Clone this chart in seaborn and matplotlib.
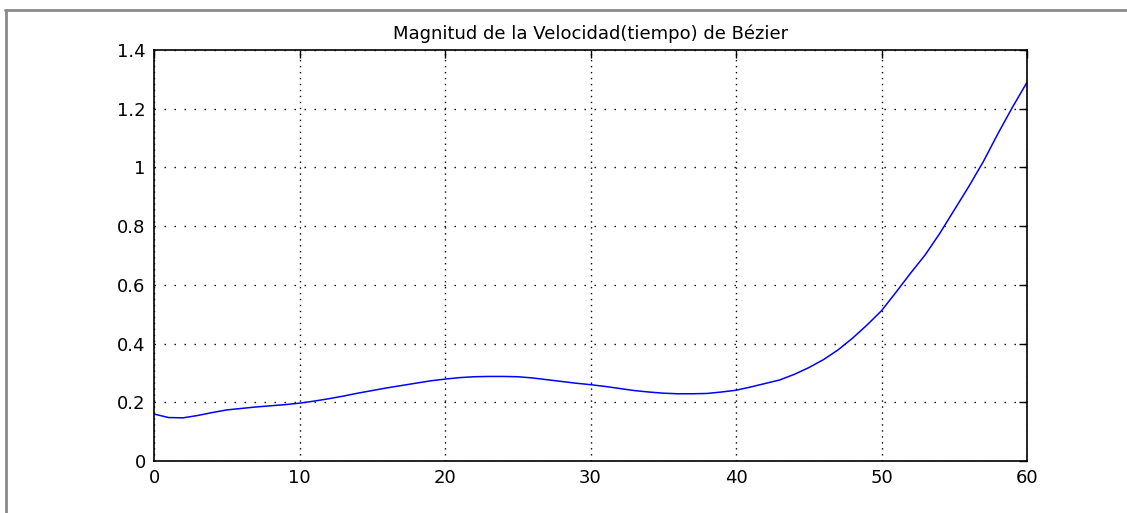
import matplotlib
matplotlib.use("Agg")
import matplotlib.pyplot as plt
from matplotlib.lines import Line2D
import pandas as pd
import seaborn as sns

# Sample times (one sample per unit) and speed magnitude of the Bézier curve
tiempo = list(range(0, 61))
velocidad = [
    0.160, 0.148, 0.147, 0.155, 0.165, 0.174, 0.179, 0.184, 0.188, 0.192,
    0.197, 0.204, 0.212, 0.221, 0.231, 0.240, 0.249, 0.257, 0.265, 0.273,
    0.279, 0.284, 0.287, 0.288, 0.288, 0.287, 0.283, 0.277, 0.271, 0.265,
    0.260, 0.254, 0.247, 0.240, 0.235, 0.231, 0.229, 0.229, 0.230, 0.235,
    0.241, 0.252, 0.264, 0.276, 0.295, 0.318, 0.345, 0.378, 0.418, 0.463,
    0.512, 0.575, 0.640, 0.702, 0.775, 0.855, 0.935, 1.020, 1.115, 1.205,
    1.290,
]
x_ticks = [0, 10, 20, 30, 40, 50, 60]
y_ticks = [0, 0.2, 0.4, 0.6, 0.8, 1.0, 1.2, 1.4]
y_tick_labels = ["0", "0.2", "0.4", "0.6", "0.8", "1", "1.2", "1.4"]
titulo = "Magnitud de la Velocidad(tiempo) de Bézier"

sns.set_style("white")
plt.rcParams["font.family"] = ["DejaVu Sans"]

df = pd.DataFrame({"t": tiempo, "v": velocidad})

fig = plt.figure(figsize=(11.27, 5.13), dpi=100)
ax = fig.add_axes([154 / 1127, 1 - 461 / 513, (1027 - 154) / 1127, (461 - 50) / 513])

sns.lineplot(data=df, x="t", y="v", ax=ax, color="#0000ff", linewidth=1.1)

ax.set_xlim(0, 60)
ax.set_ylim(0, 1.4)
ax.set_xticks(x_ticks)
ax.set_yticks(y_ticks)
ax.set_yticklabels(y_tick_labels)
ax.set_xlabel("")
ax.set_ylabel("")
# vertical grid lines: tight dots; horizontal grid lines: wider dots
ax.xaxis.grid(True, color="black", linestyle=(0, (1, 3.3)), linewidth=1.0)
ax.yaxis.grid(True, color="black", linestyle=(0, (1, 6.2)), linewidth=1.0)
ax.tick_params(direction="in", length=6, width=1, colors="black",
               top=True, right=True, labelsize=13, pad=6)
for s in ax.spines.values():
    s.set_visible(True)
    s.set_color("black")
    s.set_linewidth(1.2)
ax.set_title(titulo, fontsize=13, pad=8, color="black")

# outer frame around the figure area
fig.add_artist(Line2D([5 / 1127, 1], [1 - 10 / 513, 1 - 10 / 513],
                      transform=fig.transFigure, color="#8a8a8a", linewidth=2))
fig.add_artist(Line2D([6 / 1127, 6 / 1127], [0, 1 - 10 / 513],
                      transform=fig.transFigure, color="#8a8a8a", linewidth=2))

fig.savefig("out.png", dpi=100, facecolor="white")
